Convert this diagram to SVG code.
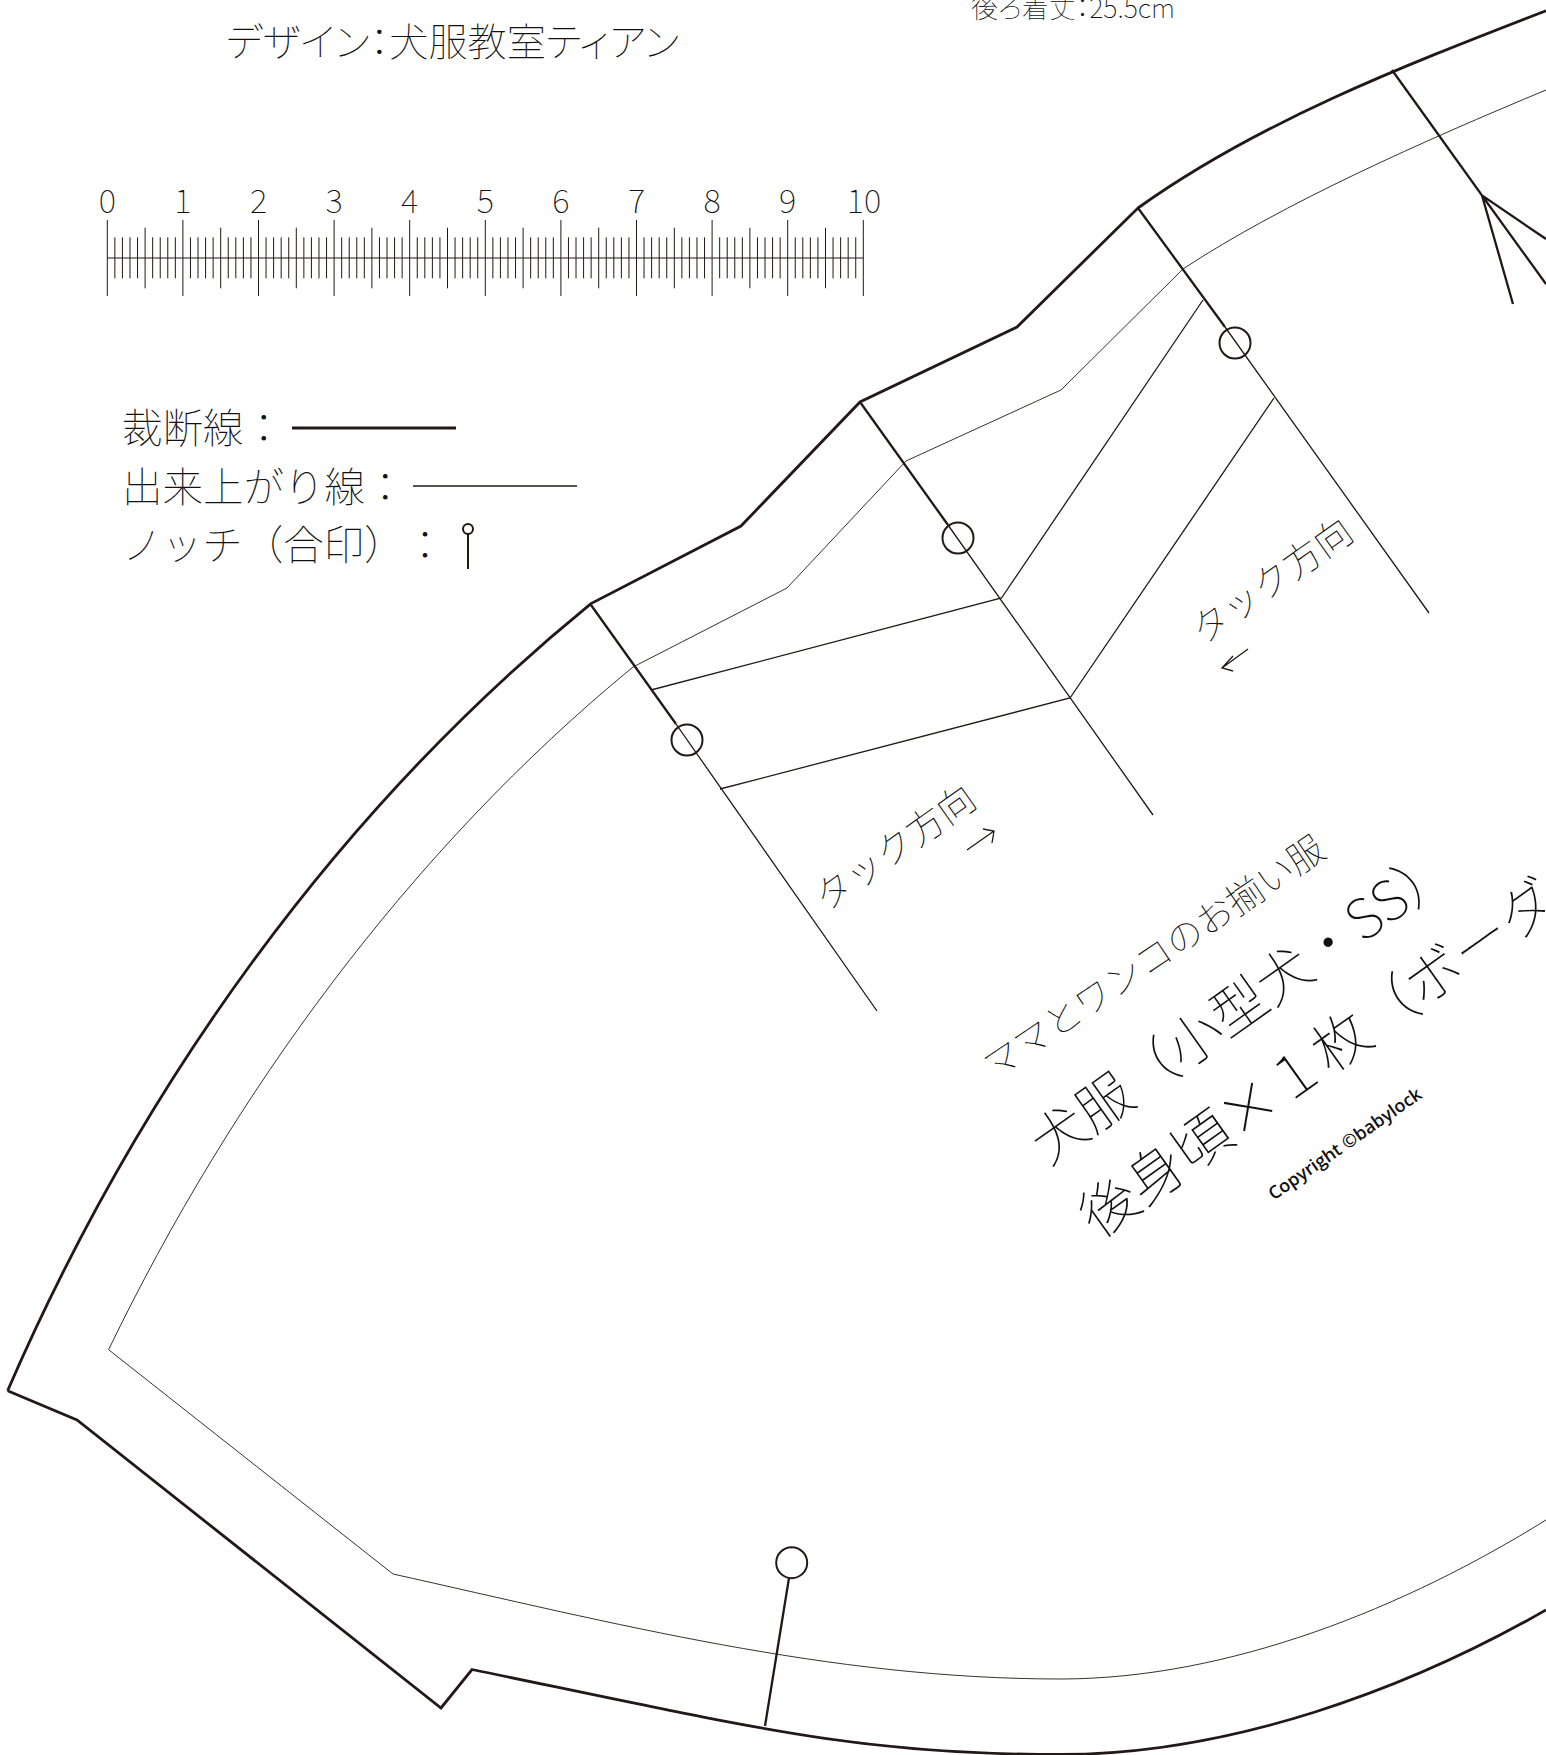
<svg xmlns="http://www.w3.org/2000/svg" xmlns:xlink="http://www.w3.org/1999/xlink" width="1546" height="1755" viewBox="0 0 1546 1755">
<style>
text{font-family:"Noto Sans CJK JP","Noto Sans",sans-serif;font-weight:100;fill:#111;text-spacing-trim:space-all}
.cut,.fin,.fold,.thick,.tick,.mark{fill:none;stroke:#231815}
.cut{stroke-width:2.8;stroke-linejoin:miter}
.fin{stroke-width:.9}
.fold{stroke-width:1.3}
.thick{stroke-width:2.3}
.mark{stroke-width:2}
.tick{stroke-width:1}
.num{font-size:33px;text-anchor:middle}
.leg{font-size:40.5px}
.rot{font-size:37.4px;text-anchor:middle}
.rot2{font-size:36.6px;text-anchor:middle}
.big{font-size:57px}
.big2{font-size:55px}
.copy{font-family:"Open Sans","Noto Sans",sans-serif;font-weight:600;font-size:18px;text-anchor:middle}
</style>
<defs>
<g id="unit">
<path class="tick" d="M0 220V296M37.8 227.7V288.3M7.56 237.3V278.3M15.12 237.3V278.3M22.68 237.3V278.3M30.24 237.3V278.3M45.36 237.3V278.3M52.92 237.3V278.3M60.48 237.3V278.3M68.04 237.3V278.3"/>
</g>
</defs>
<rect width="1546" height="1755" fill="#fff"/>
<g id="titles">
<text x="226" y="56" font-size="39.2" style="font-feature-settings:'palt'">デザイン：犬服教室ティアン</text>
<text x="971" y="18" font-size="27" style="font-feature-settings:'palt'">後ろ着丈：25.5cm</text>
</g>
<g id="ruler">
<use href="#unit" x="107.3"/><use href="#unit" x="182.9"/><use href="#unit" x="258.5"/><use href="#unit" x="334.1"/><use href="#unit" x="409.7"/><use href="#unit" x="485.3"/><use href="#unit" x="560.9"/><use href="#unit" x="636.5"/><use href="#unit" x="712.1"/><use href="#unit" x="787.7"/>
<path class="tick" d="M863.3 220V296M107.3 258H863.3"/>
<text class="num" x="107.3" y="213">0</text><text class="num" x="182.9" y="213">1</text><text class="num" x="258.5" y="213">2</text><text class="num" x="334.1" y="213">3</text><text class="num" x="409.7" y="213">4</text><text class="num" x="485.3" y="213">5</text><text class="num" x="560.9" y="213">6</text><text class="num" x="636.5" y="213">7</text><text class="num" x="712.1" y="213">8</text><text class="num" x="787.7" y="213">9</text><text class="num" x="864" y="213">10</text>
</g>
<g id="legend">
<text class="leg" x="122" y="443">裁断線：</text>
<path class="cut" d="M292 428H456"/>
<text class="leg" x="122" y="502">出来上がり線：</text>
<path class="fold" d="M413 486H577"/>
<text class="leg" x="122" y="560">ノッチ（合印）：</text>
<circle class="mark" cx="468" cy="529" r="5"/>
<path class="mark" d="M468 534V569"/>
</g>
<g id="pattern">
<path id="cut-line" class="cut" d="M7.6 1390.7L77 1420L441 1708L472 1669.5C762 1729.5 860 1754.5 1060 1754.5C1230 1754.5 1406 1690 1546 1610M7.6 1390.7C139 1088 335 812 591 603.6L741 526L860 402L1017 327L1138 208C1260 121 1406 65 1546 10.7"/>
<path id="finish-line" class="fin" d="M108.6 1349.7L393 1574C613 1623 830 1679 1060 1679C1230 1679 1406 1607 1546 1520M108.6 1349.7C232 1094 410 850 633 667L787 588L906 461L1061 390L1183 269C1283 203 1426 140 1546 90"/>
</g>
<g id="connectors">
<path class="thick" d="M591 605L676 724M860 402L948 525M1138 208L1225 327M1392 70L1482 195.5L1546 239M1482 195.5L1546 284M1482 195.5L1513 304M789 1578L765 1726"/>
<path class="fold" d="M676 724L877 1011M948 525L1153 815M1225 327L1429 613M651 690L1001.5 598L1203 300M720 789L1070 698L1274 398"/>
<path class="fold" d="M967 850L994 831M983 829L994 831L992 843M1248 649L1222 668M1233 656L1222 668L1233 671"/>
</g>
<g id="notches">
<circle id="notch-1" class="mark" cx="687" cy="740" r="15.5"/>
<circle id="notch-2" class="mark" cx="958" cy="538" r="15.5"/>
<circle id="notch-3" class="mark" cx="1235" cy="343" r="15.5"/>
<circle id="notch-4" class="mark" cx="791.7" cy="1562.7" r="15.5"/>
</g>
<g id="labels">
<text class="rot" transform="translate(895 848) rotate(-35.3)" y="13">タック方向</text>
<text class="rot" transform="translate(1272 581) rotate(-35.3)" y="13">タック方向</text>
<text class="rot2" transform="translate(1154 957) rotate(-34)" y="13">ママとワンコのお揃い服</text>
<text class="big2" transform="translate(1048.5 1166) rotate(-35.3)">犬服（小型犬・SS）</text>
<text class="big" transform="translate(1098 1240) rotate(-35.5)">後身頃×１枚（ボーダ</text>
<text class="copy" transform="translate(1345 1144) rotate(-34.7)" y="6">Copyright ©babylock</text>
</g>
</svg>
